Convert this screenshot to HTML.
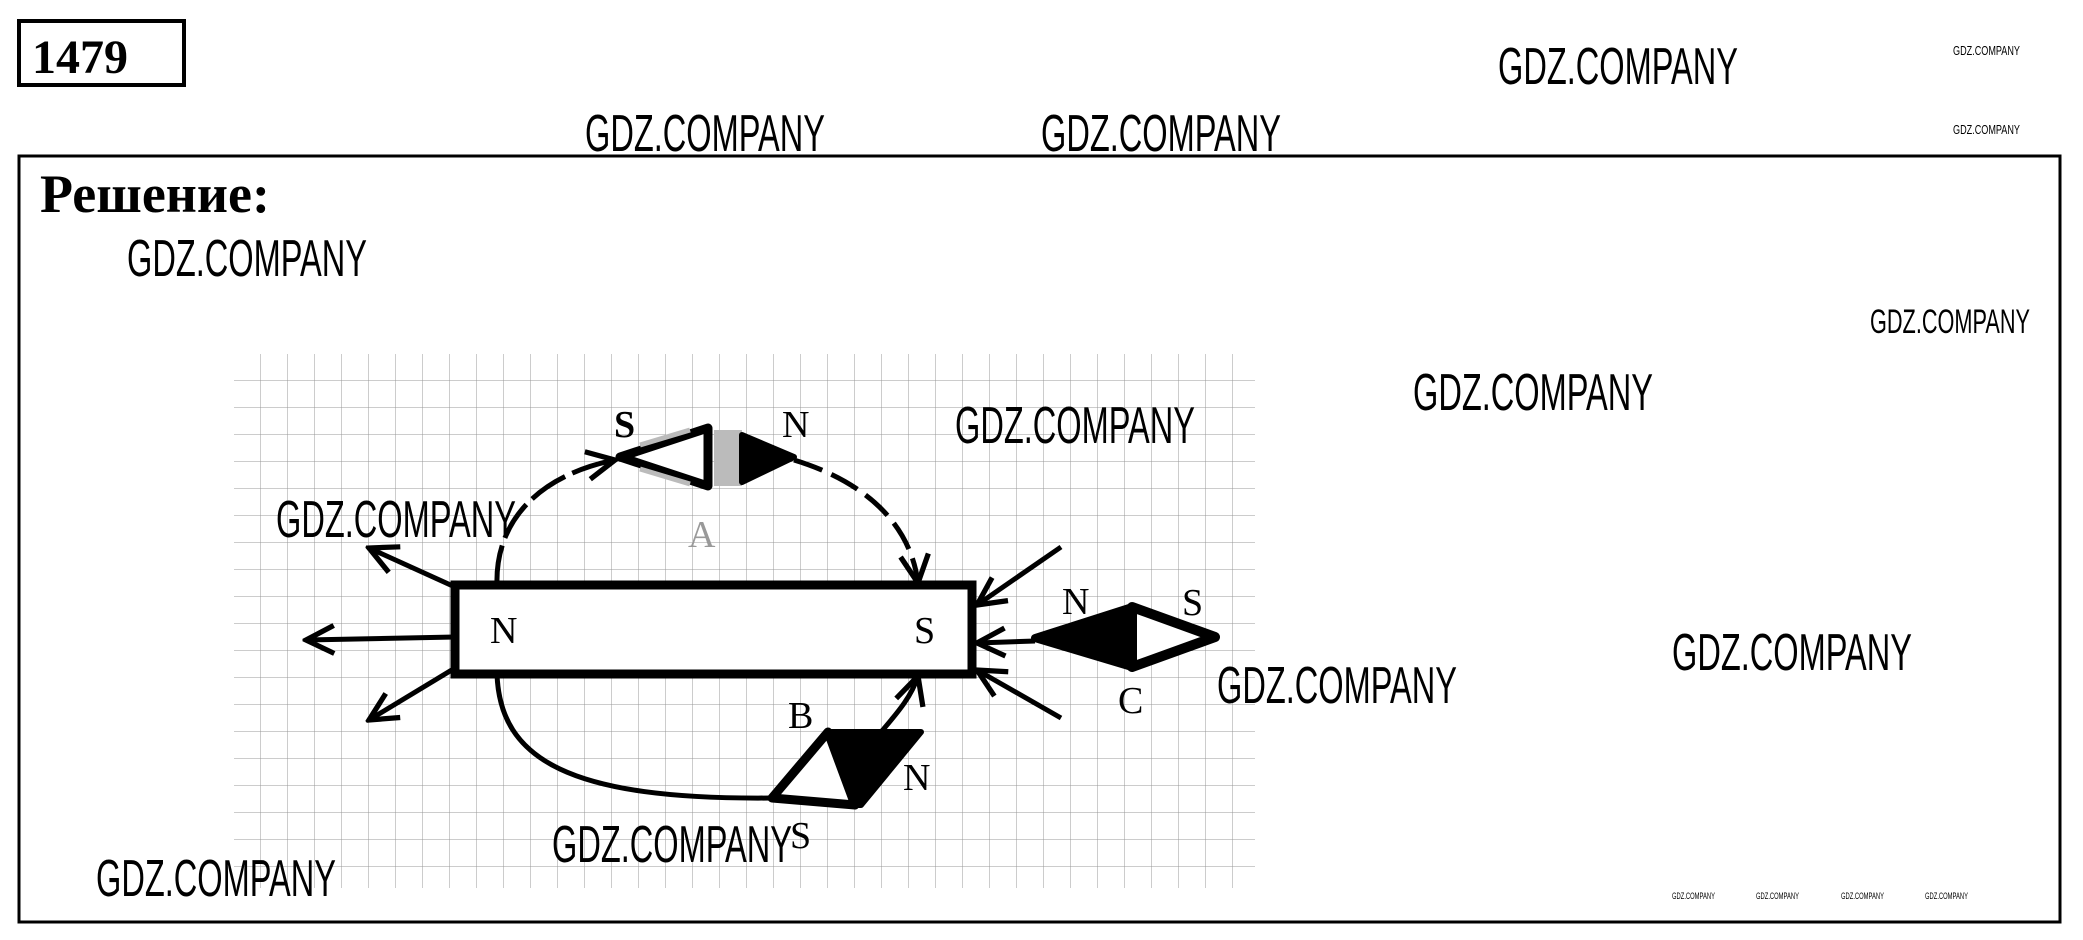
<!DOCTYPE html>
<html><head><meta charset="utf-8"><style>
html,body{margin:0;padding:0;background:#fff;}
svg{display:block;}
.w{font-family:"Liberation Sans",sans-serif;fill:#000;}
.t{font-family:"Liberation Serif",serif;fill:#000;}
</style></head><body>
<svg width="2083" height="940" viewBox="0 0 2083 940" xmlns="http://www.w3.org/2000/svg">
<defs>
<pattern id="g" width="27" height="27" patternUnits="userSpaceOnUse" x="234" y="354">
<path d="M27 0V27M0 27H27" stroke="#999" stroke-width="1" fill="none"/>
</pattern>
<marker id="ah" viewBox="0 0 20 20" refX="18" refY="10" markerWidth="7" markerHeight="7" orient="auto" markerUnits="strokeWidth">
<path d="M2 2L18 10L2 18" fill="none" stroke="#000" stroke-width="3"/>
</marker>
</defs>
<rect x="19" y="21" width="165" height="64" fill="none" stroke="#000" stroke-width="4"/>
<text x="32" y="73" class="t" font-size="48" font-weight="bold">1479</text>
<rect x="19" y="156" width="2041" height="766" fill="none" stroke="#000" stroke-width="3"/>
<text x="40" y="212" class="t" font-size="54" font-weight="bold">Решение:</text>

<rect x="234" y="354" width="1021" height="534" fill="url(#g)"/>

<!-- bar magnet -->
<rect x="455" y="585" width="517" height="89" fill="#fff" stroke="#000" stroke-width="9"/>
<text x="490" y="643" class="t" font-size="38">N</text>
<text x="914" y="643" class="t" font-size="38">S</text>

<g stroke="#000" stroke-width="5" fill="none" marker-end="url(#ah)">
<line x1="455" y1="587" x2="369" y2="548"/>
<line x1="455" y1="637" x2="306" y2="640"/>
<line x1="455" y1="668" x2="369" y2="720"/>
<line x1="1061" y1="547" x2="977" y2="605"/>
<line x1="1035" y1="641" x2="977" y2="643"/>
<line x1="1061" y1="718" x2="977" y2="670"/>
<path d="M497 585 C495 520 540 475 615 460" stroke-dasharray="40 8"/>
<path d="M794 460 C860 480 910 520 918 583" stroke="#000" stroke-dasharray="30 10"/>
<path d="M881 732 C900 710 912 695 918 676"/>
</g>
<path d="M497 674 C500 760 570 800 772 798" stroke="#000" stroke-width="5" fill="none"/>

<!-- compass A -->
<polygon points="620,457 708,428 708,486" fill="#fff" stroke="#000" stroke-width="9" stroke-linejoin="round"/>
<line x1="640" y1="445" x2="690" y2="430" stroke="#bbb" stroke-width="5"/>
<line x1="640" y1="469" x2="690" y2="484" stroke="#bbb" stroke-width="5"/>
<rect x="714" y="430" width="28" height="56" fill="#bbb"/>
<polygon points="742,435 794,457 742,482" fill="#000" stroke="#000" stroke-width="6" stroke-linejoin="round"/>
<text x="614" y="437" class="t" font-size="38" font-weight="bold">S</text>
<text x="782" y="437" class="t" font-size="38">N</text>
<text x="688" y="547" class="t" font-size="38" style="fill:#999">A</text>

<!-- compass C -->
<polygon points="1035,638 1132,607 1132,667" fill="#000" stroke="#000" stroke-width="8" stroke-linejoin="round"/>
<polygon points="1132,607 1215,637 1132,667" fill="#fff" stroke="#000" stroke-width="10" stroke-linejoin="round"/>
<text x="1062" y="614" class="t" font-size="38">N</text>
<text x="1182" y="615" class="t" font-size="38">S</text>
<text x="1118" y="713" class="t" font-size="38">C</text>

<!-- compass B -->
<polygon points="772,798 828,732 855,805" fill="#fff" stroke="#000" stroke-width="9" stroke-linejoin="round"/>
<polygon points="828,732 921,732 861,805 855,805" fill="#000" stroke="#000" stroke-width="6" stroke-linejoin="round"/>
<text x="788" y="728" class="t" font-size="38">B</text>
<text x="903" y="790" class="t" font-size="38">N</text>
<text x="790" y="848" class="t" font-size="38">S</text>

<!-- watermarks -->
<g class="w" font-size="52">
<text x="1498" y="84" textLength="240" lengthAdjust="spacingAndGlyphs">GDZ.COMPANY</text>
<text x="585" y="151" textLength="240" lengthAdjust="spacingAndGlyphs">GDZ.COMPANY</text>
<text x="1041" y="151" textLength="240" lengthAdjust="spacingAndGlyphs">GDZ.COMPANY</text>
<text x="127" y="276" textLength="240" lengthAdjust="spacingAndGlyphs">GDZ.COMPANY</text>
<text x="1413" y="410" textLength="240" lengthAdjust="spacingAndGlyphs">GDZ.COMPANY</text>
<text x="955" y="443" textLength="240" lengthAdjust="spacingAndGlyphs">GDZ.COMPANY</text>
<text x="276" y="537" textLength="240" lengthAdjust="spacingAndGlyphs">GDZ.COMPANY</text>
<text x="1672" y="670" textLength="240" lengthAdjust="spacingAndGlyphs">GDZ.COMPANY</text>
<text x="1217" y="703" textLength="240" lengthAdjust="spacingAndGlyphs">GDZ.COMPANY</text>
<text x="552" y="862" textLength="240" lengthAdjust="spacingAndGlyphs">GDZ.COMPANY</text>
<text x="96" y="896" textLength="240" lengthAdjust="spacingAndGlyphs">GDZ.COMPANY</text>
</g>
<text x="1870" y="333" class="w" font-size="34" textLength="160" lengthAdjust="spacingAndGlyphs">GDZ.COMPANY</text>
<g class="w" font-size="13">
<text x="1953" y="55" textLength="67" lengthAdjust="spacingAndGlyphs">GDZ.COMPANY</text>
<text x="1953" y="134" textLength="67" lengthAdjust="spacingAndGlyphs">GDZ.COMPANY</text>
</g>
<g class="w" font-size="9">
<text x="1672" y="899" textLength="43" lengthAdjust="spacingAndGlyphs">GDZ.COMPANY</text>
<text x="1756" y="899" textLength="43" lengthAdjust="spacingAndGlyphs">GDZ.COMPANY</text>
<text x="1841" y="899" textLength="43" lengthAdjust="spacingAndGlyphs">GDZ.COMPANY</text>
<text x="1925" y="899" textLength="43" lengthAdjust="spacingAndGlyphs">GDZ.COMPANY</text>
</g>
</svg>
</body></html>
